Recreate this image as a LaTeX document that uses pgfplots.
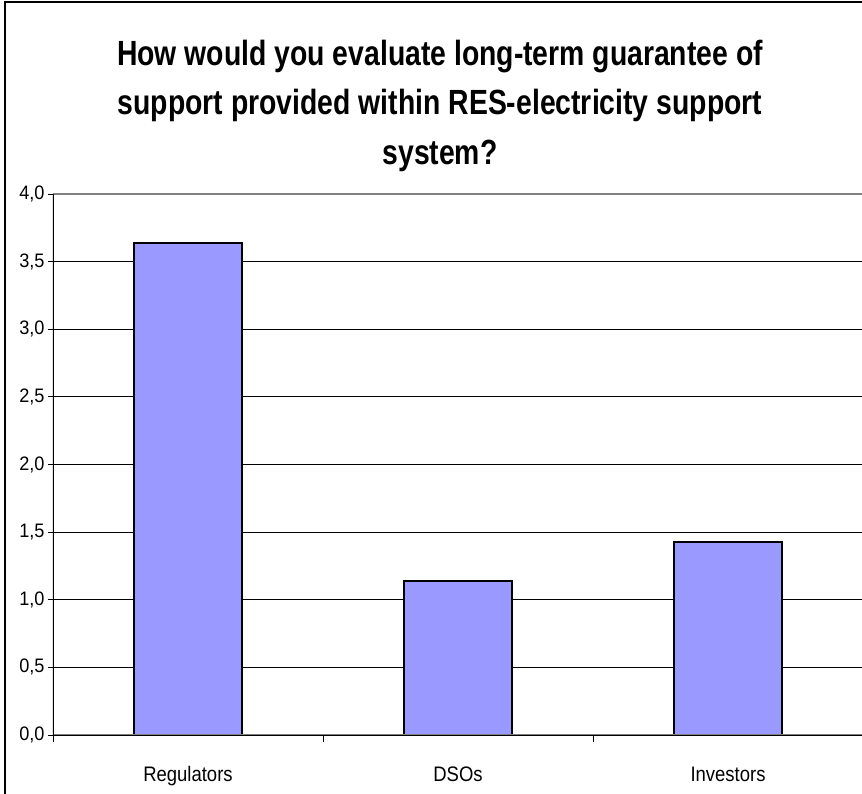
\documentclass[border=0pt]{standalone}
\usepackage{fontspec}
\setmainfont{Liberation Sans}
\newfontfamily\titlefont[FakeStretch=0.81]{Liberation Sans}
\newfontfamily\catfont[FakeStretch=0.88]{Liberation Sans}
\newfontfamily\numfont[FakeStretch=0.93]{Liberation Sans}
\usepackage{pgfplots}
\pgfplotsset{compat=1.18}
\definecolor{barblue}{RGB}{153,153,255}
\definecolor{axgray}{RGB}{128,128,128}
\begin{document}
\begin{tikzpicture}[x=1pt,y=1pt]
\useasboundingbox (-53,-59) rectangle (809,735);
\draw[black, line width=1.5pt] (-48,-70) -- (-48,733) -- (820,733);
\node[anchor=base, font=\titlefont\fontsize{35}{40}\selectfont\bfseries] at (387,669) {How would you evaluate long-term guarantee of};
\node[anchor=base, font=\titlefont\fontsize{35}{40}\selectfont\bfseries] at (387,620) {support provided within RES-electricity support};
\node[anchor=base, font=\titlefont\fontsize{35}{40}\selectfont\bfseries] at (387,570) {system?};
\begin{axis}[
  at={(0,0)}, anchor=south west,
  scale only axis, width=810pt, height=541pt,
  xmin=-0.5, xmax=2.5, ymin=0, ymax=4,
  axis line style={draw=none},
  ybar, bar width=0.4,
  xtick={0,1,2}, xticklabels={Regulators,DSOs,Investors},
  minor xtick={-0.5,0.5,1.5},
  x tick style={draw=none},
  minor x tick style={draw=black, line width=0.8pt},
  minor tick length=7pt,
  ytick={0,0.5,...,4},
  y tick style={black, line width=0.8pt},
  major tick length=5pt,
  tick align=outside,
  tick pos=left,
  ymajorgrids, grid style={black, line width=0.9pt},
  yticklabel style={font=\numfont\fontsize{19.5}{22}\selectfont, /pgf/number format/.cd, fixed, fixed zerofill, precision=1, use comma, assume math mode=true},
  xticklabel style={font=\catfont\fontsize{21}{24}\selectfont, anchor=base, yshift=-42pt},
  enlargelimits=false,
]
\addplot[fill=barblue, draw=black, line width=2pt] coordinates {(0,3.64) (1,1.14) (2,1.43)};
\draw[axgray, line width=2.7pt] (axis cs:-0.5,4) -- (axis cs:2.5,4);
\draw[axgray, line width=2.2pt] (axis cs:-0.5,0) -- (axis cs:2.5,0);
\draw[black, line width=1.3pt] (axis cs:-0.5,0) -- (axis cs:-0.5,4);
\end{axis}
\end{tikzpicture}
\end{document}
